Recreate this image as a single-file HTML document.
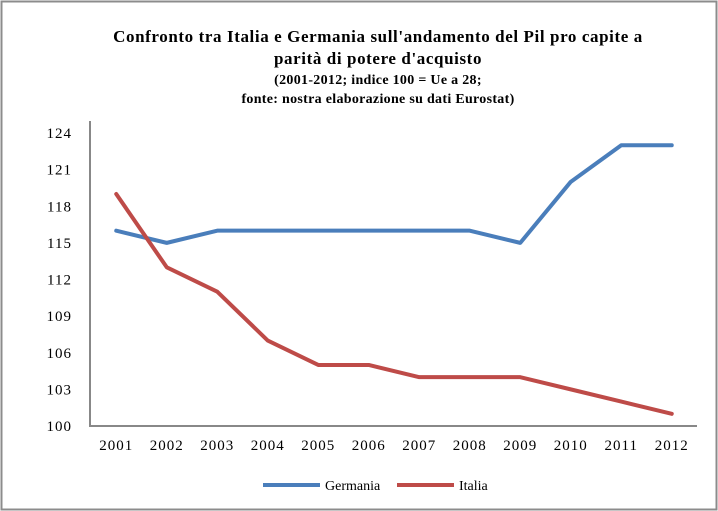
<!DOCTYPE html>
<html><head><meta charset="utf-8"><style>
html,body{margin:0;padding:0;background:#fff}
svg{display:block;font-family:"Liberation Serif",serif}
</style></head><body>
<svg width="718" height="511">
<rect x="1.5" y="1.5" width="715" height="508" fill="#fff" stroke="#8c8c8c" stroke-width="2"/>
<g font-weight="bold" font-size="17" text-anchor="middle" fill="#000" letter-spacing="0.6">
<text x="378" y="42">Confronto tra Italia e Germania sull'andamento del Pil pro capite a</text>
<text x="378" y="64">parità di potere d'acquisto</text>
<text x="378" y="84" font-size="14" letter-spacing="0.3">(2001-2012; indice 100 = Ue a 28;</text>
<text x="378" y="103" font-size="14" letter-spacing="0.3">fonte: nostra elaborazione su dati Eurostat)</text>
</g>
<g id="axes"></g>
<g id="series"></g>
<g>
<line x1="263" y1="485" x2="320" y2="485" stroke="#4a7ebb" stroke-width="4"/>
<text x="325" y="490" font-size="14">Germania</text>
<line x1="397" y1="485" x2="454" y2="485" stroke="#be4b48" stroke-width="4"/>
<text x="459" y="490" font-size="14">Italia</text>
</g>
</svg>
<script>
const years = ["2001","2002","2003","2004","2005","2006","2007","2008","2009","2010","2011","2012"];
const germania = [116,115,116,116,116,116,116,116,115,120,123,123];
const italia = [119,113,111,107,105,105,104,104,104,103,102,101];
const yTicks = [100,103,106,109,112,115,118,121,124];
const NS="http://www.w3.org/2000/svg";
const plotLeft=91, plotRight=697, yMin=100, yMax=124, plotTop=133, plotBottom=426;
const step=(plotRight-plotLeft)/years.length;
const xs=i=>plotLeft+step*(i+0.5);
const ys=v=>plotBottom-(v-yMin)/(yMax-yMin)*(plotBottom-plotTop);
const axes=document.getElementById('axes');
function mk(tag,attrs,parent){const e=document.createElementNS(NS,tag);for(const k in attrs)e.setAttribute(k,attrs[k]);parent.appendChild(e);return e;}
const ya=mk('line',{x1:plotLeft-1,y1:121,x2:plotLeft-1,y2:plotBottom,stroke:'#888','stroke-width':2},axes);


const xa=mk('line',{x1:plotLeft-2,y1:plotBottom,x2:plotRight,y2:plotBottom,stroke:'#888','stroke-width':2},axes);


yTicks.forEach(v=>{const t=mk('text',{x:72,y:ys(v)+5,'text-anchor':'end','font-size':15,'letter-spacing':1},axes);t.textContent=v;

});
years.forEach((y,i)=>{const t=mk('text',{x:xs(i),y:450,'text-anchor':'middle','font-size':15,'letter-spacing':1},axes);t.textContent=y;

});
const ser=document.getElementById('series');
function line(data,color,name){const p=mk('polyline',{points:data.map((v,i)=>xs(i)+','+ys(v)).join(' '),fill:'none',stroke:color,'stroke-width':4,'stroke-linejoin':'round','stroke-linecap':'round'},ser);

}
line(germania,'#4a7ebb','germania-line');
line(italia,'#be4b48','italia-line');
</script>
</body></html>
